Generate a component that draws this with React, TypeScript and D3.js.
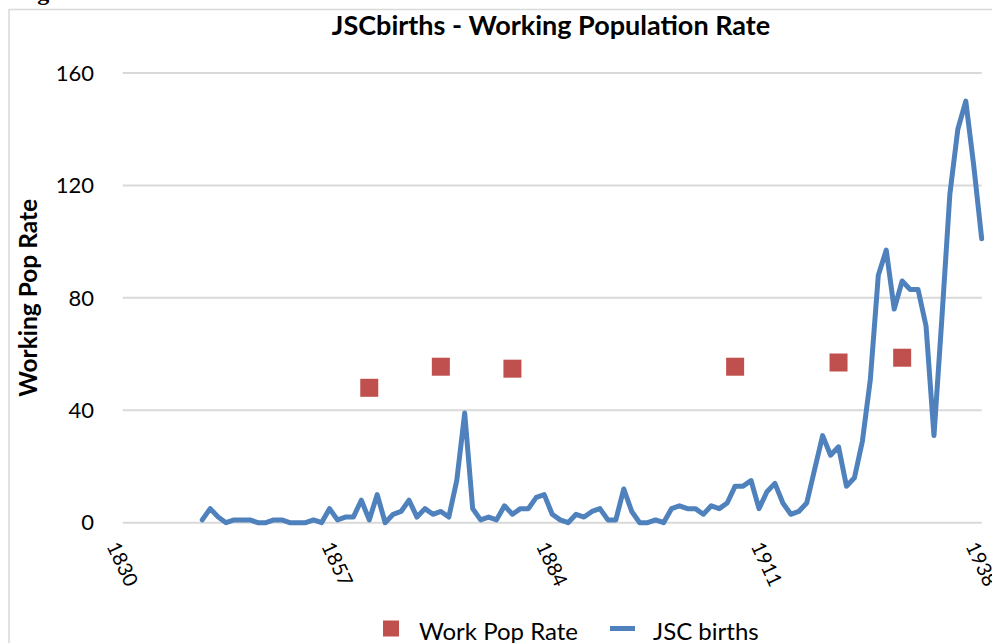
import React from "react";
import * as d3 from "d3";

// JSC births per year
const birthYears = [
  1840, 1841, 1842, 1843, 1844, 1845, 1846, 1847, 1848, 1849,
  1850, 1851, 1852, 1853, 1854, 1855, 1856, 1857, 1858, 1859,
  1860, 1861, 1862, 1863, 1864, 1865, 1866, 1867, 1868, 1869,
  1870, 1871, 1872, 1873, 1874, 1875, 1876, 1877, 1878, 1879,
  1880, 1881, 1882, 1883, 1884, 1885, 1886, 1887, 1888, 1889,
  1890, 1891, 1892, 1893, 1894, 1895, 1896, 1897, 1898, 1899,
  1900, 1901, 1902, 1903, 1904, 1905, 1906, 1907, 1908, 1909,
  1910, 1911, 1912, 1913, 1914, 1915, 1916, 1917, 1918, 1919,
  1920, 1921, 1922, 1923, 1924, 1925, 1926, 1927, 1928, 1929,
  1930, 1931, 1932, 1933, 1934, 1935, 1936, 1937, 1938,
];
const jscBirths = [
  1, 5, 2, 0, 1, 1, 1, 0, 0, 1,
  1, 0, 0, 0, 1, 0, 5, 1, 2, 2,
  8, 1, 10, 0, 3, 4, 8, 2, 5, 3,
  4, 2, 15, 39, 5, 1, 2, 1, 6, 3,
  5, 5, 9, 10, 3, 1, 0, 3, 2, 4,
  5, 1, 1, 12, 4, 0, 0, 1, 0, 5,
  6, 5, 5, 3, 6, 5, 7, 13, 13, 15,
  5, 11, 14, 7, 3, 4, 7, 19, 31, 24,
  27, 13, 16, 29, 51, 88, 97, 76, 86, 83,
  83, 70, 31, 73, 117, 140, 150, 127, 101,
];

// working population rate
const rateYears = [1861, 1870, 1879, 1907, 1920, 1928];
const workPopRate = [48, 55.5, 54.8, 55.5, 57, 58.7];

const xTickLabels = ["1830", "1857", "1884", "1911", "1938"];
const yTicks = [0, 40, 80, 120, 160];

const W = 992;
const H = 643;
const font = "Lato, 'Open Sans', sans-serif";
const blue = "#4F81BD";
const red = "#C0504D";

export default function App() {
  const x = d3.scaleLinear().domain([1830, 1938]).range([122.7, 981.7]);
  const y = d3.scaleLinear().domain([0, 160]).range([522.7, 73]);

  const line = d3
    .line<number>()
    .x((_, i) => x(birthYears[i]))
    .y((d) => y(d));

  const sq = 18;

  return (
    <svg
      width={W}
      height={H}
      style={{ position: "absolute", left: 0, top: 0, background: "#fff" }}
    >
      {/* text cut off above the chart */}
      <text x={16} y={0} fontFamily="'Liberation Serif', serif" fontWeight="bold" fontSize={24}>
        Fig
      </text>

      {/* chart border */}
      <rect x={9} y={9.5} width={W} height={H} fill="none" stroke="#d9d9d9" strokeWidth={1.5} />

      <text x={551} y={35} textAnchor="middle" fontFamily={font} fontWeight="bold" fontSize={27}>
        JSCbirths - Working Population Rate
      </text>

      {/* gridlines + y labels */}
      {yTicks.map((t) => (
        <g key={t}>
          <line x1={x.range()[0]} x2={x.range()[1]} y1={y(t)} y2={y(t)} stroke="#d9d9d9" strokeWidth={2} />
          <text x={94} y={y(t)} dy="0.35em" textAnchor="end" fontFamily={font} fontSize={22}>
            {t}
          </text>
        </g>
      ))}

      <text
        transform={`translate(28,${(y(0) + y(160)) / 2}) rotate(-90)`}
        textAnchor="middle"
        dy="0.35em"
        fontFamily={font}
        fontWeight="bold"
        fontSize={24.5}
      >
        Working Pop Rate
      </text>

      {/* x labels */}
      {xTickLabels.map((l) => {
        const lx = x(+l) - 10;
        const ly = 543;
        return (
          <text
            key={l}
            x={lx}
            y={ly}
            dy="0.35em"
            transform={`rotate(65,${lx},${ly})`}
            fontFamily={font}
            fontSize={20}
          >
            {l}
          </text>
        );
      })}

      {/* series */}
      <path
        d={line(jscBirths) || ""}
        fill="none"
        stroke={blue}
        strokeWidth={5}
        strokeLinejoin="round"
        strokeLinecap="round"
      />
      {workPopRate.map((v, i) => (
        <rect key={i} x={x(rateYears[i]) - sq / 2} y={y(v) - sq / 2} width={sq} height={sq} fill={red} />
      ))}

      {/* legend */}
      <rect x={383} y={620.5} width={16} height={16} fill={red} />
      <text x={419} y={640} fontFamily={font} fontSize={24}>
        Work Pop Rate
      </text>
      <line x1={610} x2={635} y1={628.5} y2={628.5} stroke={blue} strokeWidth={5} />
      <text x={653} y={640} fontFamily={font} fontSize={24}>
        JSC births
      </text>
    </svg>
  );
}
